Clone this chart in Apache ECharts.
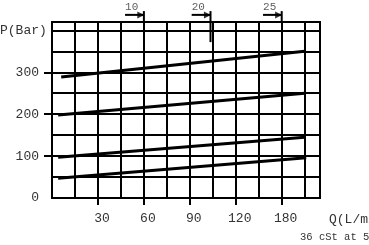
<!DOCTYPE html>
<html>
<head>
<meta charset="utf-8">
<script src="https://cdn.jsdelivr.net/npm/echarts@6/dist/echarts.min.js"></script>
<style>
html,body{margin:0;padding:0;background:#fff;}
#chart{width:369px;height:245px;}
</style>
</head>
<body>
<div id="chart"></div>
<script>
// ---- data ----
const flowTicks = [30, 60, 90, 120, 150];
const flowTickLabels = ['30', '60', '90', '120', '180'];
const pressureTicks = [0, 100, 200, 300];
const pressureTickLabels = ['0', '100', '200', '300'];
const pressureTickMarks = [100, 200, 300];
const curveA = [[6, 289], [165, 350]];
const curveB = [[4, 198], [165, 250]];
const curveC = [[4, 97], [165, 145]];
const curveD = [[4, 47], [166, 96]];
const markerLabels = ['10', '20', '25'];
const markerX = [60, 103.5, 150];
const markerLow = [420, 372, 420];
const markerHigh = 446;
const arrowStartX = [47.7, 91.2, 137.8];
const arrowHeadX = [58, 101.5, 148];
const arrowY = 437;
const markerLabelY = 456;

const FONT = 'Liberation Mono';
const TXT = '#333';
const chart = echarts.init(document.getElementById('chart'), null, {renderer: 'canvas'});

const series = [];
[curveA, curveB, curveC, curveD].forEach(function (c) {
  series.push({
    type: 'line', data: c, symbol: 'none', silent: true,
    lineStyle: {color: '#000', width: 3}, z: 5
  });
});
markerX.forEach(function (x, i) {
  series.push({
    type: 'line', data: [[x, markerLow[i]], [x, markerHigh]], symbol: 'none', clip: false,
    lineStyle: {color: '#000', width: 2}, z: 5
  });
  series.push({
    type: 'line', data: [[arrowStartX[i], arrowY], [x, arrowY]], symbol: 'none', clip: false,
    lineStyle: {color: '#000', width: 2}, z: 5
  });
});
series.push({
  type: 'scatter', clip: false, symbol: 'triangle', symbolSize: [7, 7], symbolRotate: -90,
  itemStyle: {color: '#000'}, z: 6,
  data: arrowHeadX.map(function (x) { return [x, arrowY]; })
});
series.push({
  type: 'scatter', clip: false, symbolSize: 0, z: 6,
  data: arrowStartX.map(function (x, i) { return {value: [x, markerLabelY], name: markerLabels[i]}; }),
  label: {
    show: true, position: 'inside', align: 'left', verticalAlign: 'middle',
    formatter: function (p) { return p.name; },
    fontFamily: FONT, fontSize: 11, color: TXT
  }
});

chart.setOption({
  animation: false,
  backgroundColor: '#fff',
  title: [
    {text: 'P(Bar)', left: 0, top: 24, padding: 0,
     textStyle: {fontFamily: FONT, fontSize: 13, fontWeight: 'normal', color: TXT}},
    {text: 'Q(L/min)', left: 329, top: 213, padding: 0,
     textStyle: {fontFamily: FONT, fontSize: 13, fontWeight: 'normal', color: TXT}},
    {text: '36 cSt at 50°C', left: 300, top: 232, padding: 0,
     textStyle: {fontFamily: FONT, fontSize: 10.5, fontWeight: 'normal', color: TXT}}
  ],
  grid: {left: 52, right: 49, top: 22, bottom: 47, show: true, borderColor: '#000', borderWidth: 2, backgroundColor: 'transparent'},
  xAxis: [{
    type: 'value', min: 0, max: 175, interval: 15,
    axisLine: {show: true, lineStyle: {color: '#000', width: 2}},
    splitLine: {show: true, lineStyle: {color: '#000', width: 2}},
    axisTick: {show: false},
    axisLabel: {show: false}
  }, {
    type: 'value', min: 0, max: 175, position: 'bottom',
    axisLine: {show: false},
    splitLine: {show: false},
    axisTick: {show: true, inside: false, length: 7, lineStyle: {color: '#000', width: 2}, customValues: flowTicks},
    axisLabel: {
      show: true, customValues: flowTicks, margin: 14, padding: [0, 0, 0, 8],
      fontFamily: FONT, fontSize: 13, color: TXT,
      formatter: function (v) { const k = flowTicks.indexOf(v); return k >= 0 ? flowTickLabels[k] : ''; }
    }
  }],
  yAxis: [{
    type: 'value', min: 0, max: 420, interval: 50,
    axisLine: {show: true, lineStyle: {color: '#000', width: 2}},
    splitLine: {show: true, lineStyle: {color: '#000', width: 2}},
    axisTick: {show: false},
    axisLabel: {show: false}
  }, {
    type: 'value', min: 0, max: 420, position: 'left',
    axisLine: {show: false},
    splitLine: {show: false},
    axisTick: {show: true, inside: false, length: 8, lineStyle: {color: '#000', width: 2}, customValues: pressureTickMarks},
    axisLabel: {
      show: true, customValues: pressureTicks, margin: 13,
      fontFamily: FONT, fontSize: 13, color: TXT,
      formatter: function (v) { const k = pressureTicks.indexOf(v); return k >= 0 ? pressureTickLabels[k] : ''; }
    }
  }],
  series: series
});
</script>
</body>
</html>
